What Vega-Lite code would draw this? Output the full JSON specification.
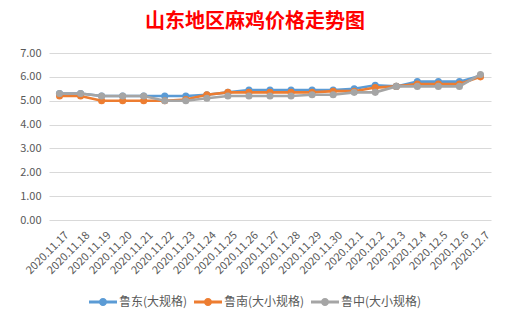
{
  "$schema": "https://vega.github.io/schema/vega-lite/v6.json",
  "width": 442,
  "height": 167,
  "autosize": "none",
  "padding": {"left": 49, "top": 53, "right": 18, "bottom": 102},
  "background": "white",
  "title": {"text": "山东地区麻鸡价格走势图", "color": "#FF0000", "fontSize": 20, "font": "Noto Sans CJK SC", "fontWeight": "bold", "anchor": "middle", "dx": -15, "offset": 15},
  "config": {
    "view": {"stroke": null},
    "axis": {"labelFont": "Noto Sans CJK SC", "labelColor": "#595959", "labelFontSize": 11, "gridColor": "#d9d9d9", "gridWidth": 1, "domain": false, "ticks": false, "title": null},
    "legend": {"labelFont": "Noto Sans CJK SC", "labelColor": "#595959", "labelFontSize": 12, "padding": 0}
  },
  "data": {"values": [
    {"date": "2020.11.17", "series": "鲁东(大规格)", "price": 5.3},
    {"date": "2020.11.18", "series": "鲁东(大规格)", "price": 5.3},
    {"date": "2020.11.19", "series": "鲁东(大规格)", "price": 5.2},
    {"date": "2020.11.20", "series": "鲁东(大规格)", "price": 5.2},
    {"date": "2020.11.21", "series": "鲁东(大规格)", "price": 5.2},
    {"date": "2020.11.22", "series": "鲁东(大规格)", "price": 5.2},
    {"date": "2020.11.23", "series": "鲁东(大规格)", "price": 5.2},
    {"date": "2020.11.24", "series": "鲁东(大规格)", "price": 5.25},
    {"date": "2020.11.25", "series": "鲁东(大规格)", "price": 5.35},
    {"date": "2020.11.26", "series": "鲁东(大规格)", "price": 5.45},
    {"date": "2020.11.27", "series": "鲁东(大规格)", "price": 5.45},
    {"date": "2020.11.28", "series": "鲁东(大规格)", "price": 5.45},
    {"date": "2020.11.29", "series": "鲁东(大规格)", "price": 5.45},
    {"date": "2020.11.30", "series": "鲁东(大规格)", "price": 5.45},
    {"date": "2020.12.1", "series": "鲁东(大规格)", "price": 5.5},
    {"date": "2020.12.2", "series": "鲁东(大规格)", "price": 5.65},
    {"date": "2020.12.3", "series": "鲁东(大规格)", "price": 5.6},
    {"date": "2020.12.4", "series": "鲁东(大规格)", "price": 5.8},
    {"date": "2020.12.5", "series": "鲁东(大规格)", "price": 5.8},
    {"date": "2020.12.6", "series": "鲁东(大规格)", "price": 5.8},
    {"date": "2020.12.7", "series": "鲁东(大规格)", "price": 6.05},
    {"date": "2020.11.17", "series": "鲁南(大小规格)", "price": 5.2},
    {"date": "2020.11.18", "series": "鲁南(大小规格)", "price": 5.2},
    {"date": "2020.11.19", "series": "鲁南(大小规格)", "price": 5.0},
    {"date": "2020.11.20", "series": "鲁南(大小规格)", "price": 5.0},
    {"date": "2020.11.21", "series": "鲁南(大小规格)", "price": 5.0},
    {"date": "2020.11.22", "series": "鲁南(大小规格)", "price": 5.0},
    {"date": "2020.11.23", "series": "鲁南(大小规格)", "price": 5.05},
    {"date": "2020.11.24", "series": "鲁南(大小规格)", "price": 5.25},
    {"date": "2020.11.25", "series": "鲁南(大小规格)", "price": 5.35},
    {"date": "2020.11.26", "series": "鲁南(大小规格)", "price": 5.35},
    {"date": "2020.11.27", "series": "鲁南(大小规格)", "price": 5.35},
    {"date": "2020.11.28", "series": "鲁南(大小规格)", "price": 5.35},
    {"date": "2020.11.29", "series": "鲁南(大小规格)", "price": 5.35},
    {"date": "2020.11.30", "series": "鲁南(大小规格)", "price": 5.4},
    {"date": "2020.12.1", "series": "鲁南(大小规格)", "price": 5.4},
    {"date": "2020.12.2", "series": "鲁南(大小规格)", "price": 5.55},
    {"date": "2020.12.3", "series": "鲁南(大小规格)", "price": 5.6},
    {"date": "2020.12.4", "series": "鲁南(大小规格)", "price": 5.7},
    {"date": "2020.12.5", "series": "鲁南(大小规格)", "price": 5.7},
    {"date": "2020.12.6", "series": "鲁南(大小规格)", "price": 5.7},
    {"date": "2020.12.7", "series": "鲁南(大小规格)", "price": 6.0},
    {"date": "2020.11.17", "series": "鲁中(大小规格)", "price": 5.3},
    {"date": "2020.11.18", "series": "鲁中(大小规格)", "price": 5.3},
    {"date": "2020.11.19", "series": "鲁中(大小规格)", "price": 5.2},
    {"date": "2020.11.20", "series": "鲁中(大小规格)", "price": 5.2},
    {"date": "2020.11.21", "series": "鲁中(大小规格)", "price": 5.2},
    {"date": "2020.11.22", "series": "鲁中(大小规格)", "price": 5.0},
    {"date": "2020.11.23", "series": "鲁中(大小规格)", "price": 5.0},
    {"date": "2020.11.24", "series": "鲁中(大小规格)", "price": 5.1},
    {"date": "2020.11.25", "series": "鲁中(大小规格)", "price": 5.2},
    {"date": "2020.11.26", "series": "鲁中(大小规格)", "price": 5.2},
    {"date": "2020.11.27", "series": "鲁中(大小规格)", "price": 5.2},
    {"date": "2020.11.28", "series": "鲁中(大小规格)", "price": 5.2},
    {"date": "2020.11.29", "series": "鲁中(大小规格)", "price": 5.25},
    {"date": "2020.11.30", "series": "鲁中(大小规格)", "price": 5.25},
    {"date": "2020.12.1", "series": "鲁中(大小规格)", "price": 5.35},
    {"date": "2020.12.2", "series": "鲁中(大小规格)", "price": 5.35},
    {"date": "2020.12.3", "series": "鲁中(大小规格)", "price": 5.6},
    {"date": "2020.12.4", "series": "鲁中(大小规格)", "price": 5.6},
    {"date": "2020.12.5", "series": "鲁中(大小规格)", "price": 5.6},
    {"date": "2020.12.6", "series": "鲁中(大小规格)", "price": 5.6},
    {"date": "2020.12.7", "series": "鲁中(大小规格)", "price": 6.1}
  ]},
  "encoding": {
    "x": {"field": "date", "type": "ordinal", "sort": null, "axis": {"labelAngle": -45, "labelPadding": 9, "labelOffset": 3, "grid": false}},
    "y": {"field": "price", "type": "quantitative", "scale": {"domain": [0, 7]}, "axis": {"values": [0, 1, 2, 3, 4, 5, 6, 7], "format": ".2f", "labelPadding": 8}},
    "color": {
      "field": "series", "type": "nominal",
      "scale": {"domain": ["鲁东(大规格)", "鲁南(大小规格)", "鲁中(大小规格)"], "range": ["#5B9BD5", "#ED7D31", "#A5A5A5"]},
      "legend": {
        "title": null, "orient": "none", "direction": "horizontal", "legendX": 40, "legendY": 235,
        "symbolType": "M-1,-0.1L1,-0.1L1,0.1L-1,0.1Z M0.29,0A0.29,0.29 0 1,1 -0.29,0A0.29,0.29 0 1,1 0.29,0Z",
        "symbolSize": 784, "symbolStrokeWidth": 0, "labelOffset": 2, "columnPadding": 6,
        "encode": {"symbols": {"update": {"fill": {"scale": "color", "field": "value"}, "opacity": {"value": 1}}}}
      }
    }
  },
  "layer": [
    {"transform": [{"filter": "datum.series === '鲁东(大规格)'"}], "mark": {"type": "line", "strokeWidth": 2.6}},
    {"transform": [{"filter": "datum.series === '鲁东(大规格)'"}], "mark": {"type": "point", "filled": true, "size": 50, "opacity": 1}},
    {"transform": [{"filter": "datum.series === '鲁南(大小规格)'"}], "mark": {"type": "line", "strokeWidth": 2.6}},
    {"transform": [{"filter": "datum.series === '鲁南(大小规格)'"}], "mark": {"type": "point", "filled": true, "size": 50, "opacity": 1}},
    {"transform": [{"filter": "datum.series === '鲁中(大小规格)'"}], "mark": {"type": "line", "strokeWidth": 2.6}},
    {"transform": [{"filter": "datum.series === '鲁中(大小规格)'"}], "mark": {"type": "point", "filled": true, "size": 50, "opacity": 1}}
  ]
}
